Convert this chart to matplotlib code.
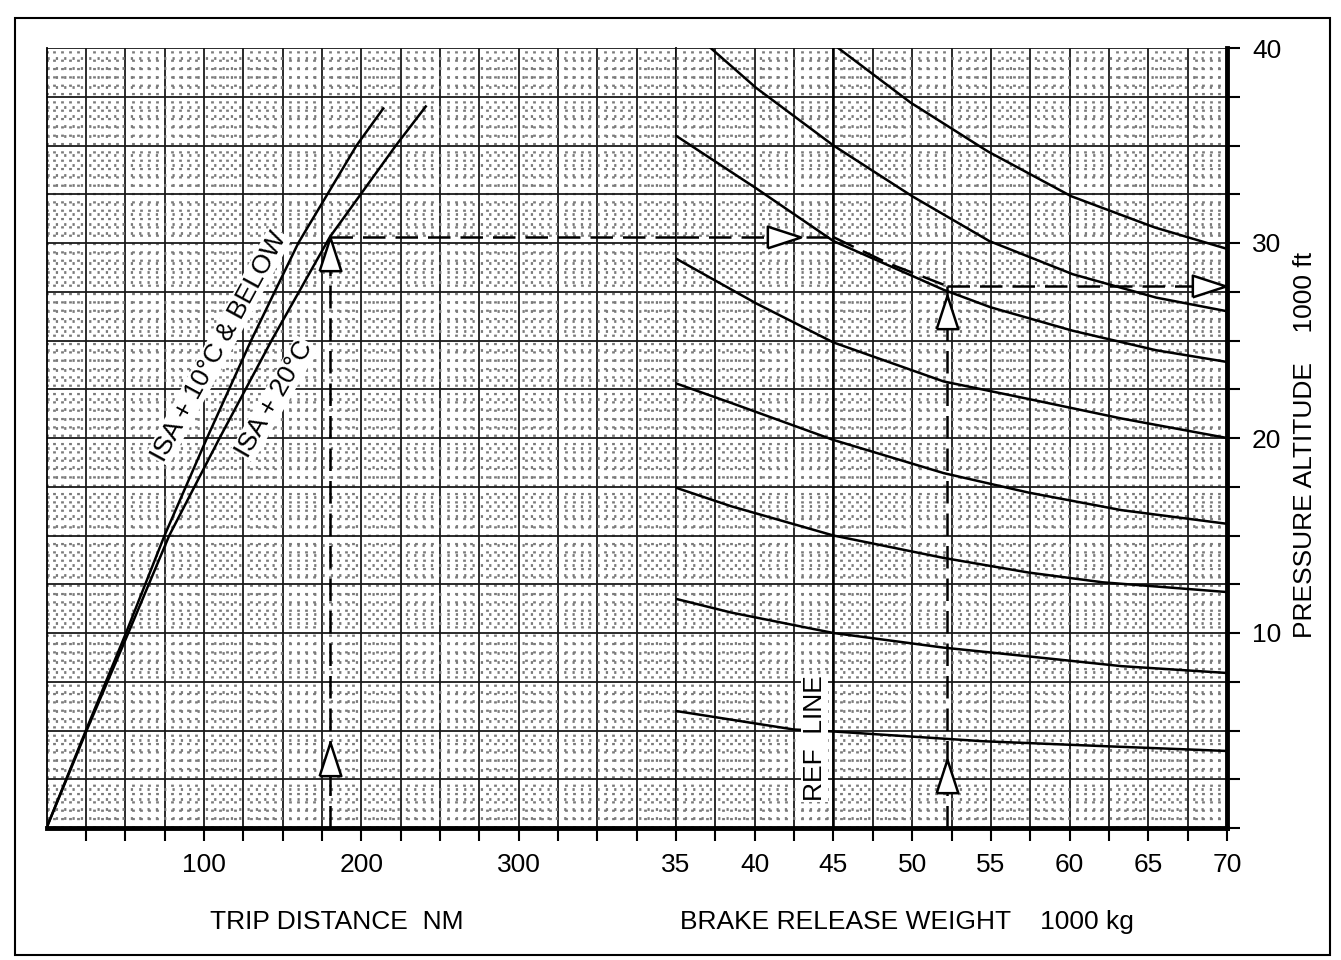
import numpy as np
import matplotlib
matplotlib.use("Agg")
import matplotlib.pyplot as plt
from matplotlib.patches import Rectangle

plt.rcParams['font.family'] = ['Liberation Sans', 'DejaVu Sans']

# trip distance lines (left chart)
isa10_alt = [0, 5, 10, 15, 20, 25, 30, 35, 36.9]
isa10_nm = [0, 25, 50.5, 75, 102, 130, 160, 197, 214]
isa20_alt = [0, 5, 10, 15, 20, 25, 30.3, 35, 37]
isa20_nm = [0, 25.5, 52, 78, 110, 143, 180, 222, 241]

# brake release weight curves (right chart), top to bottom
c1_w = [45.3, 49.9, 54.8, 60.1, 65.4, 70]
c1_alt = [40, 37.2, 34.7, 32.4, 30.8, 29.7]
c2_w = [37.2, 40.1, 45, 50, 54.9, 60.2, 65.5, 70]
c2_alt = [40, 37.95, 35.0, 32.4, 30.1, 28.4, 27.2, 26.5]
c3_w = [35, 40.1, 45, 52, 55, 60.2, 65.5, 70]
c3_alt = [35.5, 32.8, 30.1, 27.6, 26.7, 25.5, 24.5, 23.9]
c4_w = [35, 40.1, 45, 52, 57.4, 63.3, 70]
c4_alt = [29.2, 26.9, 24.9, 22.9, 22.0, 21.0, 20.0]
c5_w = [35, 38.5, 45, 52, 57.4, 63.3, 70]
c5_alt = [22.8, 21.8, 19.9, 18.2, 17.2, 16.3, 15.6]
c6_w = [35, 38.5, 45, 52, 57.4, 62.1, 70]
c6_alt = [17.45, 16.5, 15.0, 13.85, 13.1, 12.6, 12.1]
c7_w = [35, 38.5, 45, 52, 57.4, 63.3, 70]
c7_alt = [11.75, 11.05, 10.0, 9.25, 8.8, 8.3, 7.95]
c8_w = [35, 42.5, 45, 54.5, 62.1, 70]
c8_alt = [6.0, 5.05, 4.95, 4.45, 4.2, 3.95]

curves = [(c1_w, c1_alt), (c2_w, c2_alt), (c3_w, c3_alt), (c4_w, c4_alt),
          (c5_w, c5_alt), (c6_w, c6_alt), (c7_w, c7_alt), (c8_w, c8_alt)]

# worked example
ex_nm = 180
ex_alt1 = 30.3
ex_w = 52.2
ex_alt2 = 27.8
ref_w = 45

nm_ticks = np.arange(25, 400, 25)
w_ticks = np.arange(35, 70.01, 2.5)
alt_ticks = np.arange(0, 40.01, 2.5)

fig = plt.figure(figsize=(13.41, 9.6), dpi=100)
ax1 = fig.add_axes([46.5 / 1341, 132 / 960, 629.5 / 1341, 780 / 960])
ax2 = fig.add_axes([676 / 1341, 132 / 960, 551 / 1341, 780 / 960])

for ax in (ax1, ax2):
    ax.set_ylim(0, 40)
    ax.set_yticks(alt_ticks)
    ax.yaxis.set_minor_locator(plt.MultipleLocator(0.5))
    ax.xaxis.set_minor_locator(plt.MultipleLocator(5 if ax is ax1 else 0.5))
    ax.grid(True, which='major', color='#1a1a1a', lw=1.3)
    ax.grid(True, which='minor', color='#7a7a7a', lw=2.0, linestyle=(0, (0.8, 2.2)))
    ax.set_axisbelow(True)
    ax.tick_params(which='minor', length=0)
    ax.tick_params(which='major', direction='out', length=9, width=1.5,
                   labelsize=19, pad=9)
    ax.spines['top'].set_visible(False)
    ax.spines['bottom'].set_linewidth(3.5)

ax1.set_xlim(0, 400)
ax1.set_xticks(nm_ticks)
ax1.set_xticklabels([str(int(v)) if v % 100 == 0 else '' for v in nm_ticks])
ax1.tick_params(axis='y', length=0, labelleft=False)
ax1.spines['left'].set_linewidth(1.3)
ax1.spines['right'].set_linewidth(1.3)

ax2.set_xlim(35, 70)
ax2.set_xticks(w_ticks)
ax2.set_xticklabels([str(int(v)) if v % 5 == 0 else '' for v in w_ticks])
ax2.yaxis.tick_right()
ax2.set_yticklabels([str(int(v)) if v % 10 == 0 and v > 0 else '' for v in alt_ticks])
ax2.spines['left'].set_visible(False)
ax2.spines['right'].set_linewidth(3.5)

# temperature lines
ax1.plot(isa10_nm, isa10_alt, color='black', lw=1.8, zorder=3)
ax1.plot(isa20_nm, isa20_alt, color='black', lw=1.8, zorder=3)

# weight curves and reference line
for w, a in curves:
    ax2.plot(w, a, color='black', lw=1.8, zorder=3)
ax2.axvline(ref_w, color='black', lw=1.8, zorder=3)

dash = (0, (9, 4))
ax1.plot([ex_nm, ex_nm], [0, ex_alt1], color='black', lw=1.8, linestyle=dash, zorder=4)
ax1.plot([ex_nm, 400], [ex_alt1, ex_alt1], color='black', lw=1.8, linestyle=dash, zorder=4)
ax2.plot([35, ref_w], [ex_alt1, ex_alt1], color='black', lw=1.8, linestyle=dash, zorder=4)
ax2.plot([ref_w, 48.5, ex_w], [ex_alt1, 28.95, ex_alt2], color='black', lw=1.8, linestyle=dash, zorder=4)
ax2.plot([ex_w, 70], [ex_alt2, ex_alt2], color='black', lw=1.8, linestyle=dash, zorder=4)
ax2.plot([ex_w, ex_w], [0, ex_alt2], color='black', lw=1.8, linestyle=dash, zorder=4)

up = [(-0.65, -1), (0.65, -1), (0, 1), (-0.65, -1)]
right = [(-1, -0.65), (-1, 0.65), (1, 0), (-1, -0.65)]
mk = dict(ms=24, mfc='white', mec='black', mew=1.8, zorder=6, clip_on=False, linestyle='none')
ax1.plot([ex_nm, ex_nm], [29.45, 3.55], marker=up, **mk)
ax2.plot([ex_w, ex_w], [26.45, 2.65], marker=up, **mk)
ax2.plot([41.85, 68.85], [ex_alt1, ex_alt2], marker=right, **mk)

box = dict(facecolor='white', edgecolor='none', pad=0.8)
ax1.text(109.5, 24.7, 'ISA + 10°C & BELOW', rotation=61.5, ha='center', va='center',
         fontsize=19, bbox=box, zorder=5)
ax1.text(145, 22.0, 'ISA + 20°C', rotation=60, ha='center', va='center',
         fontsize=19, bbox=box, zorder=5)
ax2.text(43.8, 4.6, 'REF  LINE', rotation=90, ha='center', va='center',
         fontsize=19, bbox=box, zorder=5)

fig.text(337 / 1341, 1 - 922 / 960, 'TRIP DISTANCE  NM', ha='center', va='center', fontsize=19)
fig.text(907 / 1341, 1 - 922 / 960, 'BRAKE RELEASE WEIGHT    1000 kg', ha='center', va='center', fontsize=19)
fig.text(1305 / 1341, 1 - 445 / 960, 'PRESSURE ALTITUDE    1000 ft', rotation=90,
         ha='center', va='center', fontsize=19)

fig.patches.append(Rectangle((15 / 1341, 5 / 960), 1315 / 1341, 937 / 960,
                             transform=fig.transFigure, fill=False, lw=1.5, color='black'))

fig.savefig('out.png', dpi=100)
